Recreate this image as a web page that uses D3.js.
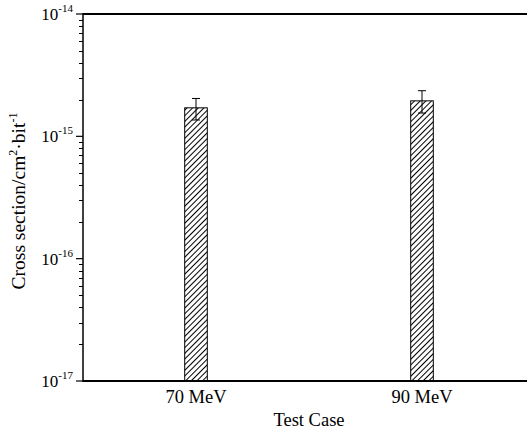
<!DOCTYPE html>
<html><head><meta charset="utf-8">
<script src="https://cdn.jsdelivr.net/npm/d3@7"></script>
<style>body{margin:0;background:#fff}svg{display:block}text{font-family:"Liberation Serif","Times New Roman",serif;fill:#000}</style>
</head><body>
<script>
const categories = ["70 MeV", "90 MeV"];
const values = [1.71e-15, 1.95e-15];
const errUpper = [2.04e-15, 2.36e-15];
const errLower = [1.36e-15, 1.55e-15];
const yTickExps = [-17, -16, -15, -14];

const W = 527, H = 432;
const m = {left: 83, top: 14, bottom: 381, right: 535};
const svg = d3.select("body").append("svg").attr("width", W).attr("height", H);

const defs = svg.append("defs");
const pat = defs.append("pattern").attr("id", "hatch").attr("patternUnits", "userSpaceOnUse")
  .attr("width", 4).attr("height", 4).attr("patternTransform", "rotate(45)");
pat.append("rect").attr("width", 4).attr("height", 4).attr("fill", "#fff");
pat.append("line").attr("x1", 0).attr("y1", 0).attr("x2", 0).attr("y2", 4)
  .attr("stroke", "#000").attr("stroke-width", 2);

const x = d3.scalePoint().domain(categories).range([m.left, m.right]).padding(0.5);
const y = d3.scaleLog().domain([1e-17, 1e-14]).range([m.bottom, m.top]);
const bw = x.step() * 0.1;

// bars
svg.selectAll("rect.bar").data(categories).enter().append("rect")
  .attr("class", "bar")
  .attr("x", d => x(d) - bw / 2)
  .attr("width", bw)
  .attr("y", (d, i) => y(values[i]))
  .attr("height", (d, i) => y(1e-17) - y(values[i]))
  .attr("fill", "url(#hatch)").attr("stroke", "#000").attr("stroke-width", 1);

// error bars
const eb = svg.selectAll("g.eb").data(categories).enter().append("g");
eb.append("line").attr("x1", d => x(d)).attr("x2", d => x(d))
  .attr("y1", (d, i) => y(errLower[i])).attr("y2", (d, i) => y(errUpper[i]))
  .attr("stroke", "#000").attr("stroke-width", 1);
eb.append("line").attr("x1", d => x(d) - 4).attr("x2", d => x(d) + 4)
  .attr("y1", (d, i) => y(errUpper[i])).attr("y2", (d, i) => y(errUpper[i]))
  .attr("stroke", "#000").attr("stroke-width", 1);
eb.append("line").attr("x1", d => x(d) - 4).attr("x2", d => x(d) + 4)
  .attr("y1", (d, i) => y(errLower[i])).attr("y2", (d, i) => y(errLower[i]))
  .attr("stroke", "#000").attr("stroke-width", 1);

// minor ticks
const minor = [];
yTickExps.slice(0, -1).forEach(e => { for (let k = 2; k <= 9; k++) minor.push(k * Math.pow(10, e)); });
svg.selectAll("line.minor").data(minor).enter().append("line")
  .attr("x1", m.left - 4).attr("x2", m.left)
  .attr("y1", d => Math.round(y(d)) + 0.5).attr("y2", d => Math.round(y(d)) + 0.5)
  .attr("stroke", "#000").attr("stroke-width", 1);

// major ticks + labels
const majors = svg.selectAll("g.maj").data(yTickExps).enter().append("g")
  .attr("transform", d => `translate(0,${y(Math.pow(10, d))})`);
majors.append("line").attr("x1", m.left - 7).attr("x2", m.left).attr("stroke", "#000").attr("stroke-width", 1.2);
const lt = majors.append("text").attr("x", m.left - 10).attr("y", 6).attr("text-anchor", "end").attr("font-size", 17);
lt.append("tspan").text("10");
lt.append("tspan").attr("font-size", 11).attr("dy", -8).text(d => String(d));

// axes lines
svg.append("line").attr("x1", m.left).attr("x2", m.left).attr("y1", m.top - 1).attr("y2", m.bottom + 1)
  .attr("stroke", "#000").attr("stroke-width", 1.5);
svg.append("line").attr("x1", m.left).attr("x2", W).attr("y1", m.top).attr("y2", m.top)
  .attr("stroke", "#000").attr("stroke-width", 1.8);
svg.append("line").attr("x1", m.left).attr("x2", W).attr("y1", m.bottom).attr("y2", m.bottom)
  .attr("stroke", "#000").attr("stroke-width", 1.8);

// x labels
svg.selectAll("text.xl").data(categories).enter().append("text")
  .attr("x", d => x(d)).attr("y", 403).attr("text-anchor", "middle").attr("font-size", 18.5).text(d => d);

svg.append("text").attr("x", (m.left + m.right) / 2).attr("y", 426).attr("text-anchor", "middle")
  .attr("font-size", 18.5).text("Test Case");

const yt = svg.append("text").attr("transform", `translate(25,201) rotate(-90)`)
  .attr("text-anchor", "middle").attr("font-size", 19.5);
yt.append("tspan").text("Cross section/cm");
yt.append("tspan").attr("font-size", 12).attr("dy", -8).text("2");
yt.append("tspan").attr("dy", 8).text("·bit");
yt.append("tspan").attr("font-size", 12).attr("dy", -8).text("-1");
</script>
</body></html>
